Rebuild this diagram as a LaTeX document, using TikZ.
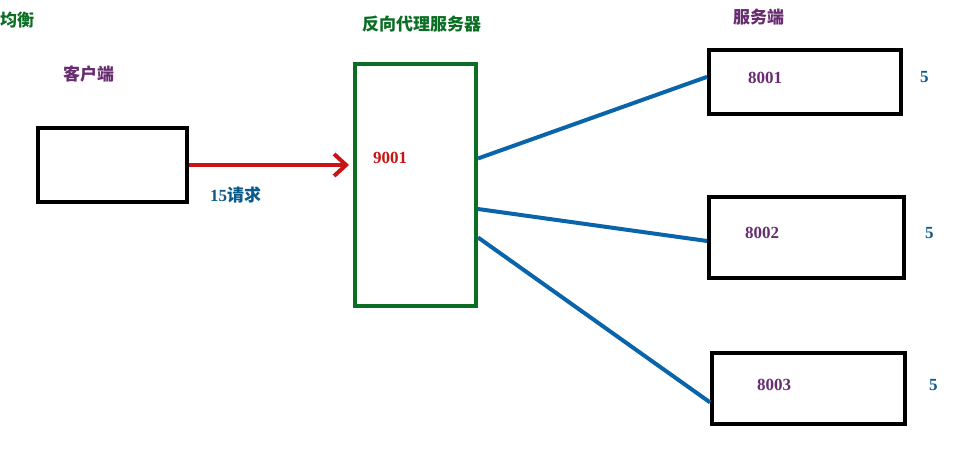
\documentclass[tikz,border=0pt]{standalone}
\usepackage{fontspec}
\setmainfont{Liberation Serif}
\newfontfamily\cjk{Noto Sans CJK SC}
\usetikzlibrary{arrows.meta}
\definecolor{boxgreen}{RGB}{12,110,36}
\definecolor{linkblue}{RGB}{10,100,170}
\definecolor{reqred}{RGB}{200,20,20}
\definecolor{labpurple}{RGB}{104,44,112}
\definecolor{numteal}{RGB}{10,90,140}
\tikzset{
  hostbox/.style={draw, line width=4pt, inner sep=0pt},
  lab/.style={anchor=west, inner sep=0pt, font=\fontsize{17}{17}\selectfont\bfseries},
  link/.style={linkblue, line width=4pt}
}
\begin{document}
\begin{tikzpicture}[x=1pt, y=-1pt, >={Straight Barb[length=12pt,width=22pt]}]
\useasboundingbox (0,0) rectangle (971,450);

\node[hostbox, minimum width=149pt, minimum height=74pt] (client) at (112.5,165) {};
\node[hostbox, boxgreen, minimum width=121pt, minimum height=242pt] (proxy) at (415.5,185) {};
\node[hostbox, minimum width=192pt, minimum height=64pt] (s1) at (805,82) {};
\node[hostbox, minimum width=195pt, minimum height=81pt] (s2) at (806.5,237.5) {};
\node[hostbox, minimum width=193pt, minimum height=71pt] (s3) at (808.5,388.5) {};

\node[lab, boxgreen] (title) at (0,20) {\cjk 均衡};
\node[lab, labpurple] (clab) at (63,74) {\cjk 客户端};
\node[lab, boxgreen] (plab) at (362,24) {\cjk 反向代理服务器};
\node[lab, labpurple] (slab) at (733,17) {\cjk 服务端};
\node[lab, numteal] (req) at (210,195) {15{\cjk 请求}};
\node[lab, reqred] (pport) at (373,158) {9001};

\node[lab, labpurple] (p1) at (748,77.5) {8001};
\node[lab, labpurple] (p2) at (745,233) {8002};
\node[lab, labpurple] (p3) at (757,385) {8003};
\node[lab, numteal] (w1) at (920,77) {5};
\node[lab, numteal] (w2) at (925,233) {5};
\node[lab, numteal] (w3) at (929,385) {5};

\draw[->, reqred, line width=4pt, shorten >=4pt] (client.east) -- (client.east -| proxy.west);
\draw[link] (proxy.23) -- (s1.177);
\draw[link] (proxy.-21) -- (s2.182);
\draw[link] (proxy.-40) -- (s3.188);
\end{tikzpicture}
\end{document}
